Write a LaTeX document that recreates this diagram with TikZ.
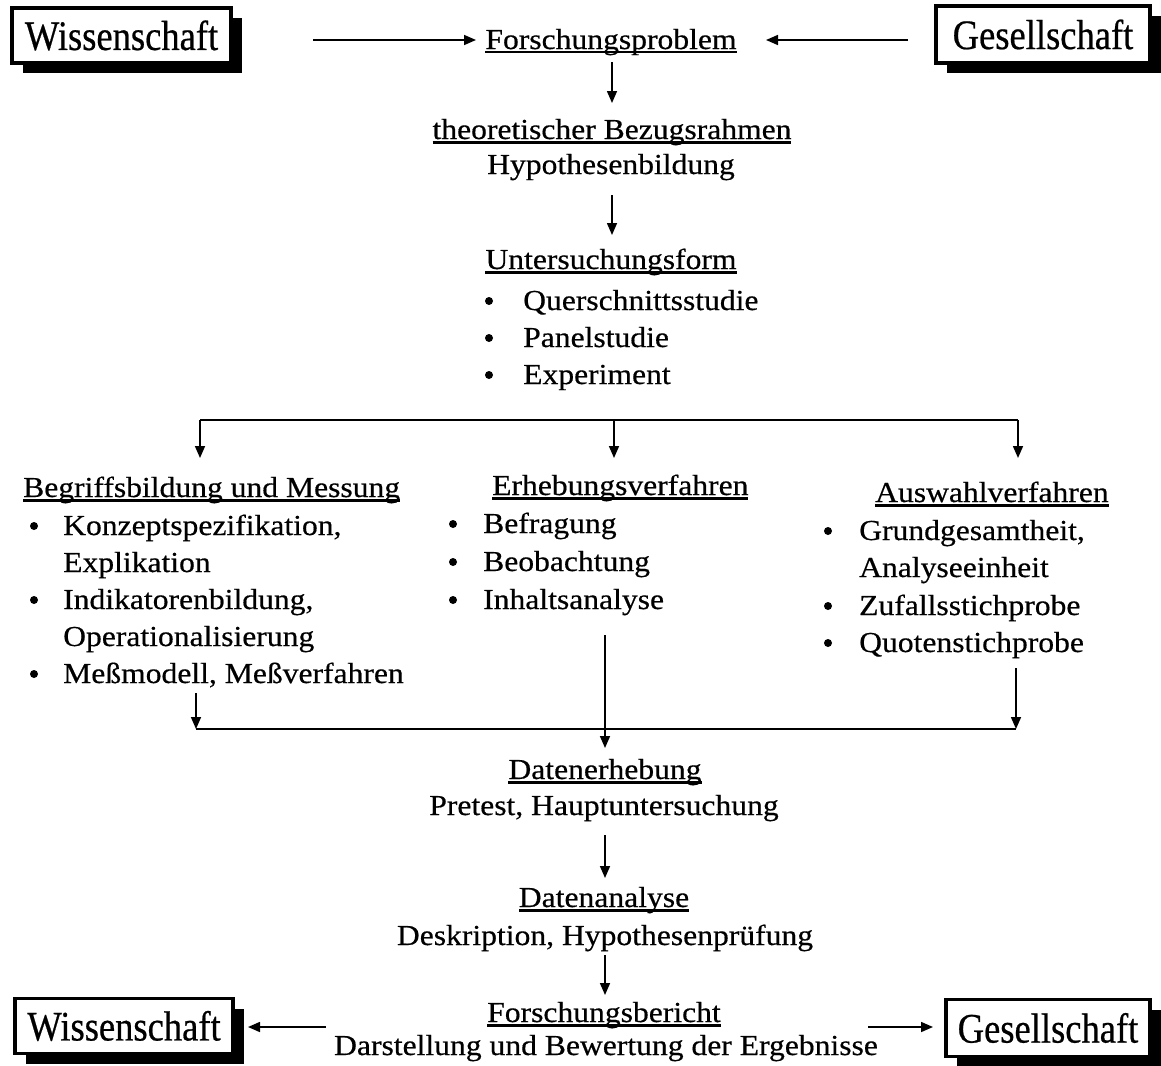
\documentclass[tikz,border=0pt]{standalone}
\usepackage{fontspec}
\setmainfont[FakeStretch=1.09,FakeBold=0.5]{Liberation Serif}
\newfontfamily\boxfont[FakeStretch=0.87,FakeBold=0.5]{Liberation Serif}
\usetikzlibrary{arrows.meta,shadows}
\newcommand\myul[1]{\setbox0\hbox{#1}\rlap{\rule[-4.5pt]{\wd0}{2.2pt}}\box0}
\begin{document}
\begin{tikzpicture}[x=1pt,y=-1pt,
  every node/.style={inner sep=0pt, font=\fontsize{29}{37}\selectfont},
  lab/.style={anchor=base},
  item/.style={anchor=base west},
  arr/.style={-{Triangle[length=12pt,width=10pt]}, line width=1.6pt},
  ln/.style={line width=1.6pt},
  bx/.style={draw, line width=3.5pt, fill=white, font=\boxfont\fontsize{42}{42}\selectfont,
    drop shadow={shadow xshift=11pt, shadow yshift=-10pt, fill=black, opacity=1}},
  dot/.style={circle, fill=black, minimum size=8pt, inner sep=0pt}]
\useasboundingbox (0,0) rectangle (1161,1065);

% top row
\node[bx, minimum width=219pt, minimum height=55pt] (w1) at (121.5,35.5) {Wissenschaft};
\node[bx, minimum width=214pt, minimum height=57pt] (g1) at (1043,34.5) {Gesellschaft};
\node[lab] (fp) at (611,49) {\myul{Forschungsproblem}};
\coordinate (a1s) at (313,40); \coordinate (a1e) at (476,40);
\coordinate (a2s) at (908,40); \coordinate (a2e) at (766,40);
\draw[arr] (a1s) -- (a1e);
\draw[arr] (a2s) -- (a2e);

\coordinate (a3s) at (612,62); \coordinate (a3e) at (612,103);
\draw[arr] (a3s) -- (a3e);
\node[lab] (tb) at (612,139) {\myul{theoretischer Bezugsrahmen}};
\node[lab] (hb) at (611,174) {Hypothesenbildung};
\coordinate (a4s) at (612,195); \coordinate (a4e) at (612,235);
\draw[arr] (a4s) -- (a4e);

\node[lab] (uf) at (611,269) {\myul{Untersuchungsform}};
\node[dot] (ub1) at (489,301) {};
\node[item] (u1) at (523,310) {Querschnittsstudie};
\node[dot] (ub2) at (489,338) {};
\node[item] (u2) at (523,347) {Panelstudie};
\node[dot] (ub3) at (489,375) {};
\node[item] (u3) at (523,384) {Experiment};

% branch
\coordinate (bl) at (200,420); \coordinate (bm) at (614,420); \coordinate (br) at (1018,420);
\coordinate (blt) at (200,458); \coordinate (bmt) at (614,458); \coordinate (brt) at (1018,458);
\draw[ln] (bl) -- (br);
\draw[arr] (bl) -- (blt);
\draw[arr] (bm) -- (bmt);
\draw[arr] (br) -- (brt);

% left column
\node[item] (bm0) at (23,497) {\myul{Begriffsbildung und Messung}};
\node[dot] (lb1) at (34,526) {};
\node[item] (l1) at (63,535) {Konzeptspezifikation,};
\node[item] (l2) at (63,572) {Explikation};
\node[dot] (lb2) at (34,600) {};
\node[item] (l3) at (63,609) {Indikatorenbildung,};
\node[item] (l4) at (63,646) {Operationalisierung};
\node[dot] (lb3) at (34,674) {};
\node[item] (l5) at (63,683) {Meßmodell, Meßverfahren};

% middle column
\node[item] (ev) at (492,495) {\myul{Erhebungsverfahren}};
\node[dot] (mb1) at (453,524) {};
\node[item] (m1) at (483,533) {Befragung};
\node[dot] (mb2) at (453,562) {};
\node[item] (m2) at (483,571) {Beobachtung};
\node[dot] (mb3) at (453,600) {};
\node[item] (m3) at (483,609) {Inhaltsanalyse};

% right column
\node[item] (av) at (875,502) {\myul{Auswahlverfahren}};
\node[dot] (rb1) at (828,531) {};
\node[item] (r1) at (859,540) {Grundgesamtheit,};
\node[item] (r2) at (859,577) {Analyseeinheit};
\node[dot] (rb2) at (828,606) {};
\node[item] (r3) at (859,615) {Zufallsstichprobe};
\node[dot] (rb3) at (828,643) {};
\node[item] (r4) at (859,652) {Quotenstichprobe};

% merge
\coordinate (ml) at (196,693); \coordinate (mlt) at (196,729);
\coordinate (mr) at (1016,668); \coordinate (mrt) at (1016,729);
\coordinate (mm) at (605,635); \coordinate (mmt) at (605,748);
\draw[ln] (mlt) -- (mrt);
\draw[arr] (ml) -- (mlt);
\draw[arr] (mr) -- (mrt);
\draw[arr] (mm) -- (mmt);

% lower chain
\node[lab] (de) at (605,779) {\myul{Datenerhebung}};
\node[lab] (pt) at (604,815) {Pretest, Hauptuntersuchung};
\coordinate (a5s) at (605,835); \coordinate (a5e) at (605,878);
\draw[arr] (a5s) -- (a5e);
\node[lab] (da) at (604,907) {\myul{Datenanalyse}};
\node[lab] (dh) at (605,945) {Deskription, Hypothesenprüfung};
\coordinate (a6s) at (605,955); \coordinate (a6e) at (605,995);
\draw[arr] (a6s) -- (a6e);
\node[lab] (fb) at (604,1022) {\myul{Forschungsbericht}};
\node[lab] (db) at (606,1055) {Darstellung und Bewertung der Ergebnisse};

% bottom row
\node[bx, minimum width=218pt, minimum height=55pt] (w2) at (124,1026) {Wissenschaft};
\node[bx, minimum width=204pt, minimum height=57pt] (g2) at (1048,1028) {Gesellschaft};
\coordinate (a7s) at (326,1027); \coordinate (a7e) at (248,1027);
\coordinate (a8s) at (868,1027); \coordinate (a8e) at (933,1027);
\draw[arr] (a7s) -- (a7e);
\draw[arr] (a8s) -- (a8e);
\end{tikzpicture}
\end{document}
